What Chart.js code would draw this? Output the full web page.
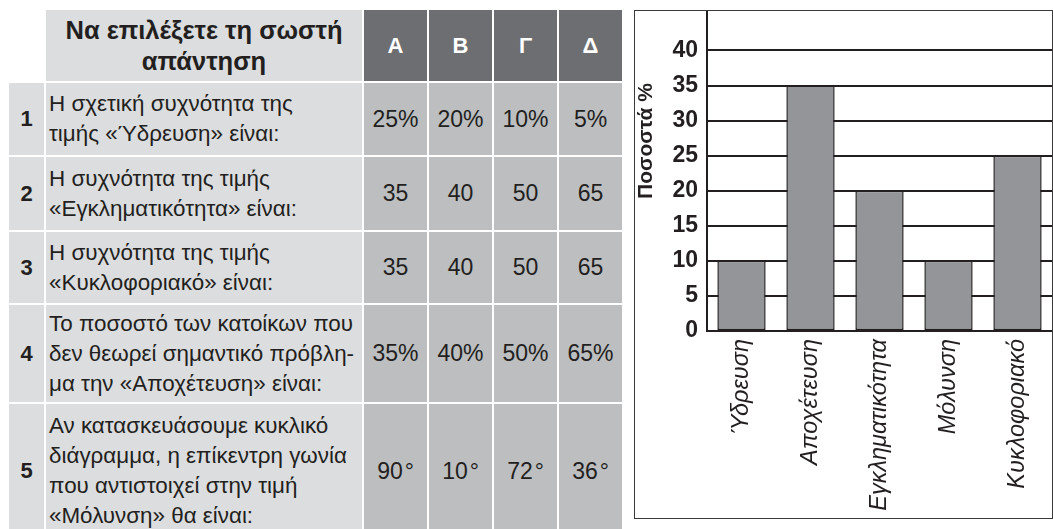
<!DOCTYPE html>
<html lang="el">
<head>
<meta charset="utf-8">
<script src="https://cdn.jsdelivr.net/npm/chart.js@4/dist/chart.umd.min.js"></script>
<style>
  html, body { margin: 0; padding: 0; background: #fff; overflow: hidden; }
  body { width: 1053px; height: 529px; position: relative; font-family: "Liberation Sans", Arial, sans-serif; color: #231f20; }
  #quiz { position: absolute; left: 7px; top: 8px; border-collapse: separate; border-spacing: 2px; table-layout: fixed; }
  #quiz td { padding: 0; vertical-align: middle; }
  #quiz .num { width: 35px; background: #dcdddf; text-align: center; font-weight: bold; font-size: 22px; }
  #quiz .blank { background: #fff; }
  #quiz .head { width: 316px; background: #dcdddf; text-align: center; font-weight: bold; font-size: 25.5px; line-height: 31px; }
  #quiz .letter { width: 63px; background: #6d6e71; color: #fff; text-align: center; font-weight: bold; font-size: 22px; }
  #quiz .q { width: 313px; background: #dcdddf; font-size: 22.4px; line-height: 30px; padding-left: 3px; white-space: nowrap; overflow: hidden; }
  #quiz .ans { background: #bcbec0; text-align: center; font-size: 23px; }
  #chartBox { position: absolute; left: 634px; top: 10px; width: 417px; height: 507px; border: 1.5px solid #3a3a3a; }
</style>
</head>
<body>
<table id="quiz"></table>
<div id="chartBox"><canvas id="bars"></canvas></div>
<script>
// ---- table data ----
const headTitle = ["Να επιλέξετε τη σωστή", "απάντηση"];
const choiceLetters = ["Α", "Β", "Γ", "Δ"];
const questionLines = [
  ["Η σχετική συχνότητα της", "τιμής «Ύδρευση» είναι:"],
  ["Η συχνότητα της τιμής", "«Εγκληματικότητα» είναι:"],
  ["Η συχνότητα της τιμής", "«Κυκλοφοριακό» είναι:"],
  ["Το ποσοστό των κατοίκων που", "δεν θεωρεί σημαντικό πρόβλη-", "μα την «Αποχέτευση» είναι:"],
  ["Αν κατασκευάσουμε κυκλικό", "διάγραμμα, η επίκεντρη γωνία", "που αντιστοιχεί στην τιμή", "«Μόλυνση» θα είναι:"]
];
const answerRows = [
  ["25%", "20%", "10%", "5%"],
  ["35", "40", "50", "65"],
  ["35", "40", "50", "65"],
  ["35%", "40%", "50%", "65%"],
  ["90\u200a°", "10\u200a°", "72\u200a°", "36\u200a°"]
];
const rowHeights = [71, 72, 73, 71, 97, 134];

// ---- chart data ----
const categories = ["Ύδρευση", "Αποχέτευση", "Εγκληματικότητα", "Μόλυνση", "Κυκλοφοριακό"];
const percents = [10, 35, 20, 10, 25];
const yTickValues = [0, 5, 10, 15, 20, 25, 30, 35, 40];
const yTitle = "Ποσοστά %";

// build table
const tbl = document.getElementById("quiz");
let html = '<tr style="height:' + rowHeights[0] + 'px"><td class="num blank"></td><td class="head">' +
  headTitle.join("<br>") + "</td>";
choiceLetters.forEach(l => { html += '<td class="letter">' + l + "</td>"; });
html += "</tr>";
questionLines.forEach((lines, i) => {
  html += '<tr style="height:' + rowHeights[i + 1] + 'px"><td class="num">' + (i + 1) + "</td>";
  html += '<td class="q">' + lines.join("<br>") + "</td>";
  answerRows[i].forEach(a => { html += '<td class="ans">' + a + "</td>"; });
  html += "</tr>";
});
tbl.innerHTML = html;

// y axis title drawn beside the ticks
const yTitlePlugin = {
  id: "yTitle",
  afterDraw(chart) {
    const c = chart.ctx;
    c.save();
    c.translate(11, 130);
    c.rotate(-Math.PI / 2);
    c.font = "bold 21px 'Liberation Sans', Arial, sans-serif";
    c.fillStyle = "#231f20";
    c.textAlign = "center";
    c.textBaseline = "middle";
    c.fillText(yTitle, 0, 0);
    c.restore();
  }
};

new Chart(document.getElementById("bars"), {
  type: "bar",
  data: {
    labels: categories,
    datasets: [{
      data: percents,
      backgroundColor: "#939598",
      borderColor: "#231f20",
      borderWidth: 1.5,
      borderSkipped: false,
      barPercentage: 0.7,
      categoryPercentage: 1
    }]
  },
  options: {
    responsive: true,
    maintainAspectRatio: false,
    animation: false,
    layout: { padding: 0 },
    plugins: { legend: { display: false }, tooltip: { enabled: false } },
    scales: {
      x: {
        grid: { display: false, drawTicks: false },
        border: { display: true, color: "#231f20", width: 2 },
        ticks: {
          autoSkip: false,
          minRotation: 90,
          maxRotation: 90,
          padding: 8,
          color: "#231f20",
          font: { family: "'Liberation Sans', Arial, sans-serif", size: 23.5, style: "italic" }
        },
        afterFit(scale) {
          scale.height = 187;
          scale.paddingLeft = 0;
          scale.paddingRight = 0;
        }
      },
      y: {
        min: 0,
        max: 45.63,
        grid: { color: "#231f20", lineWidth: 2, drawTicks: false },
        border: { display: true, color: "#231f20", width: 2 },
        afterBuildTicks(scale) {
          scale.ticks = yTickValues.map(v => ({ value: v }));
        },
        ticks: {
          padding: 9,
          color: "#231f20",
          font: { family: "'Liberation Sans', Arial, sans-serif", size: 23, weight: "bold" }
        },
        afterFit(scale) {
          scale.width = 72;
          scale.paddingTop = 0;
          scale.paddingBottom = 0;
        }
      }
    }
  },
  plugins: [yTitlePlugin]
});
</script>
</body>
</html>
